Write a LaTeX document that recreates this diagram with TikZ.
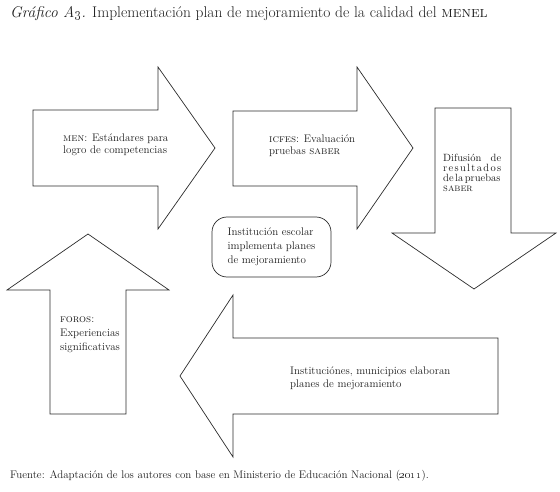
\documentclass[tikz,border=0pt]{standalone}
\usetikzlibrary{positioning}
\definecolor{figLine}{HTML}{2B2B2B}
\definecolor{figInk}{HTML}{1E1E1E}
\tikzset{
  flecha/.style={draw=figLine,line width=0.7pt,line join=miter},
  rotulo/.style={text=figInk,font=\fontsize{11}{12}\selectfont,align=left,inner sep=0pt,anchor=north west},
  leyenda/.style={text=figInk,inner sep=0pt,anchor=base west},
}
\begin{document}
\begin{tikzpicture}[x=1pt,y=-1pt]
    \useasboundingbox (0,0) rectangle (560,492);
    % title and source
    \node[leyenda,font=\fontsize{15.5}{17}\selectfont] (titulo) at (10,18)
        {\textit{Gráfico A\oldstylenums{3}.} Implementación plan de mejoramiento de la calidad del \textsc{menel}};
    \node[leyenda,font=\fontsize{11}{13}\selectfont] (fuente) at (10,478)
        {Fuente: Adaptación de los autores con base en Ministerio de Educación Nacional (\oldstylenums{2011}).};
    % big arrows
    \draw[flecha] (33,110) -- (158,110) -- (158,67) -- (215,148) -- (158,229) -- (158,186) -- (33,186) -- cycle;
    \draw[flecha] (233,111) -- (357,111) -- (357,67) -- (413,148) -- (357,229) -- (357,186) -- (233,186) -- cycle;
    \draw[flecha] (435,108) -- (511,108) -- (511,233) -- (556,233) -- (474,289) -- (392,233) -- (435,233) -- cycle;
    \draw[flecha] (50,414) -- (50,290) -- (7,290) -- (88,234) -- (169,290) -- (126,290) -- (126,414) -- cycle;
    \draw[flecha] (498,338) -- (498,414) -- (233,414) -- (233,457) -- (180,376) -- (233,295) -- (233,338) -- cycle;
    % texts inside the arrows
    \node[rotulo] (men) at (63,133.5) {\textsc{men}: Estándares para\\logro de competencias};
    \node[rotulo] (icfes) at (269,134.5) {\textsc{icfes}: Evaluación\\pruebas \textsc{saber}};
    \node[rotulo,font=\fontsize{10.5}{10}\selectfont] (difusion) at (443,153.5)
        {\hbox to 58pt{Difusión\hfill de}\\
         \hbox to 58pt{r\hfill e\hfill s\hfill u\hfill l\hfill t\hfill a\hfill d\hfill o\hfill s}\\
         \hbox to 58pt{de\hskip1.5pt la\hskip1.5pt pruebas\hss}\\
         \textsc{saber}};
    \node[rotulo,font=\fontsize{11}{14}\selectfont] (foros) at (60,316.5) {\textsc{foros}:\\Experiencias\\significativas};
    \node[rotulo,font=\fontsize{11}{13}\selectfont] (elaboran) at (290,366.5) {Instituciónes, municipios elaboran\\planes de mejoramiento};
    % centre box
    \node[draw=figLine,line width=0.7pt,rounded corners=15pt,minimum width=119pt,minimum height=60pt,
          text=figInk,font=\fontsize{11}{14}\selectfont,align=left] (escolar) at (271.5,247)
        {Institución escolar\\implementa planes\\de mejoramiento};
\end{tikzpicture}
\end{document}
